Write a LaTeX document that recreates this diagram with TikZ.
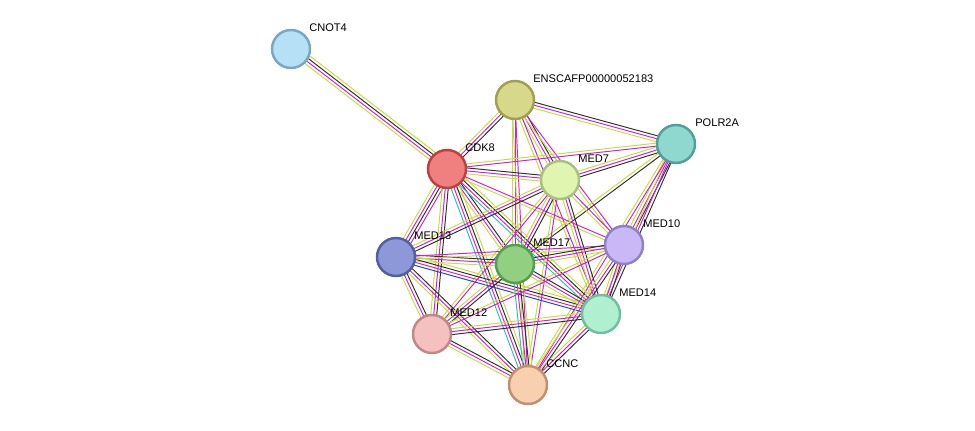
\documentclass[tikz,border=0pt]{standalone}
\usepackage{fontspec}
\setmainfont{Liberation Sans}
\usetikzlibrary{calc}
\definecolor{etxt}{HTML}{C8DC3C}
\definecolor{eexp}{HTML}{D020D0}
\definecolor{edb}{HTML}{303030}
\definecolor{ebl}{HTML}{2040E0}
\definecolor{ecy}{HTML}{30B8D0}
\tikzset{
  prot/.style={circle,minimum size=0.76cm,inner sep=0pt,line width=1.4pt},
  lbl/.style={anchor=west,font=\fontsize{6.3}{7}\selectfont,inner sep=0pt},
  edge/.style={line width=0.55pt}
}
\newcommand{\link}[3]{%
  \foreach \c [count=\i] in {#3} {
    \pgfmathsetmacro\o{(\i-2)*1.7}
    \draw[edge,\c] ($(#1)!\o pt!90:(#2)$) -- ($(#2)!\o pt!-90:(#1)$);
  }}
\begin{document}
\begin{tikzpicture}[x=0.02cm,y=-0.02cm]
  \useasboundingbox (0,0) rectangle (975,431);
  % proteins (coordinates first)
  \coordinate (cnot4) at (291,49);
  \coordinate (enscaf) at (515,100);
  \coordinate (polr2a) at (676,144);
  \coordinate (cdk8) at (447,169);
  \coordinate (med7) at (560,180);
  \coordinate (med10) at (624,245);
  \coordinate (med13) at (396,257);
  \coordinate (med17) at (515,264);
  \coordinate (med14) at (601,314);
  \coordinate (med12) at (432,334);
  \coordinate (ccnc) at (528,385);
  % edges
  \link{cnot4}{cdk8}{etxt,eexp,edb,etxt}
  \link{enscaf}{cdk8}{etxt,eexp,edb}
  \link{enscaf}{polr2a}{etxt,eexp,edb}
  \link{enscaf}{med7}{etxt,eexp,edb}
  \link{enscaf}{med17}{etxt,eexp}
  \link{enscaf}{med14}{etxt,eexp}
  \link{enscaf}{med10}{etxt,eexp}
  \link{enscaf}{ccnc}{etxt,eexp}
  \link{polr2a}{cdk8}{etxt,eexp}
  \link{polr2a}{med7}{etxt,eexp,edb}
  \link{polr2a}{med10}{etxt,eexp,edb}
  \link{polr2a}{med14}{etxt,eexp,edb}
  \link{polr2a}{med17}{etxt,edb}
  \link{polr2a}{ccnc}{etxt,eexp}
  \link{cdk8}{med7}{etxt,eexp,edb}
  \link{cdk8}{med13}{etxt,eexp,edb,eexp}
  \link{cdk8}{med17}{etxt,eexp,edb}
  \link{cdk8}{med14}{ecy,eexp,edb,etxt}
  \link{cdk8}{med12}{etxt,eexp,edb}
  \link{cdk8}{ccnc}{ecy,eexp,edb,etxt}
  \link{cdk8}{med10}{etxt,eexp}
  \link{med7}{med17}{etxt,eexp,edb}
  \link{med7}{med10}{etxt,eexp}
  \link{med7}{med14}{etxt,eexp,edb}
  \link{med7}{med12}{etxt,eexp}
  \link{med7}{med13}{etxt,eexp,edb}
  \link{med7}{ccnc}{etxt,eexp}
  \link{med13}{med17}{etxt,eexp,edb}
  \link{med13}{med14}{ebl,eexp,edb,etxt}
  \link{med13}{med12}{etxt,eexp,edb}
  \link{med13}{ccnc}{etxt,eexp,edb}
  \link{med13}{med10}{etxt,eexp}
  \link{med17}{med10}{etxt,eexp,edb}
  \link{med17}{med14}{etxt,eexp,edb}
  \link{med17}{med12}{etxt,eexp,edb}
  \link{med17}{ccnc}{ecy,eexp,edb,etxt}
  \link{med10}{med14}{etxt,eexp,edb}
  \link{med10}{ccnc}{etxt,eexp,edb}
  \link{med10}{med12}{etxt,eexp}
  \link{med14}{med12}{etxt,eexp,edb}
  \link{med14}{ccnc}{etxt,eexp,edb}
  \link{med12}{ccnc}{etxt,eexp,edb}
  % nodes
  \node[prot,fill={rgb,255:red,181;green,224;blue,245},draw={rgb,255:red,122;green,168;blue,196}] (n1) at (cnot4) {};
  \node[prot,fill={rgb,255:red,216;green,216;blue,138},draw={rgb,255:red,160;green,160;blue,80}] (n2) at (enscaf) {};
  \node[prot,fill={rgb,255:red,142;green,216;blue,208},draw={rgb,255:red,80;green,160;blue,152}] (n3) at (polr2a) {};
  \node[prot,fill={rgb,255:red,240;green,128;blue,128},draw={rgb,255:red,192;green,64;blue,64}] (n4) at (cdk8) {};
  \node[prot,fill={rgb,255:red,224;green,245;blue,176},draw={rgb,255:red,168;green,192;blue,128}] (n5) at (med7) {};
  \node[prot,fill={rgb,255:red,200;green,184;blue,245},draw={rgb,255:red,144;green,128;blue,200}] (n6) at (med10) {};
  \node[prot,fill={rgb,255:red,140;green,152;blue,216},draw={rgb,255:red,80;green,96;blue,160}] (n7) at (med13) {};
  \node[prot,fill={rgb,255:red,144;green,208;blue,128},draw={rgb,255:red,80;green,160;blue,80}] (n8) at (med17) {};
  \node[prot,fill={rgb,255:red,176;green,240;blue,208},draw={rgb,255:red,112;green,192;blue,160}] (n9) at (med14) {};
  \node[prot,fill={rgb,255:red,245;green,192;blue,192},draw={rgb,255:red,192;green,136;blue,136}] (n10) at (med12) {};
  \node[prot,fill={rgb,255:red,248;green,208;blue,176},draw={rgb,255:red,192;green,144;blue,112}] (n11) at (ccnc) {};
  % labels
  \node[lbl] (l1) at ($(cnot4)+(18,-21)$) {CNOT4};
  \node[lbl] (l2) at ($(enscaf)+(18,-21)$) {ENSCAFP00000052183};
  \node[lbl] (l3) at ($(polr2a)+(19,-21)$) {POLR2A};
  \node[lbl] (l4) at ($(cdk8)+(18,-21)$) {CDK8};
  \node[lbl] (l5) at ($(med7)+(18,-21)$) {MED7};
  \node[lbl] (l6) at ($(med10)+(19,-21)$) {MED10};
  \node[lbl] (l7) at ($(med13)+(18,-21)$) {MED13};
  \node[lbl] (l8) at ($(med17)+(18,-21)$) {MED17};
  \node[lbl] (l9) at ($(med14)+(18,-21)$) {MED14};
  \node[lbl] (l10) at ($(med12)+(18,-21)$) {MED12};
  \node[lbl] (l11) at ($(ccnc)+(18,-21)$) {CCNC};
\end{tikzpicture}
\end{document}
